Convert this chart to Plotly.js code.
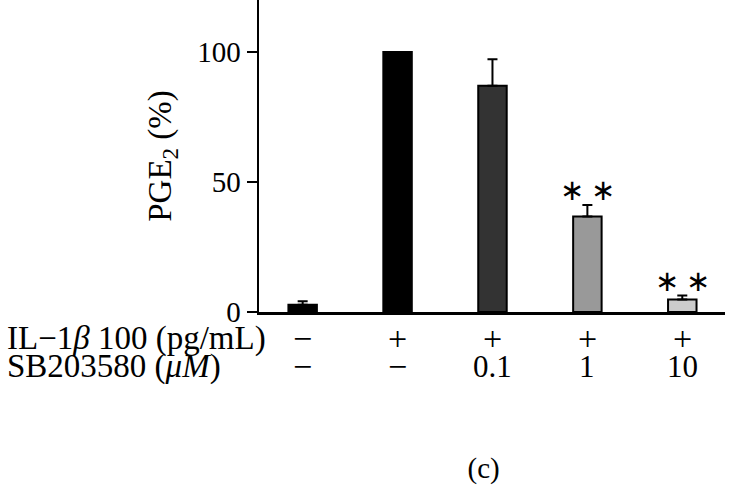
<!DOCTYPE html>
<html>
<head>
<meta charset="utf-8">
<script src="https://cdn.plot.ly/plotly-3.0.1.min.js"></script>
<style>html,body{margin:0;padding:0;background:#fff}#chart{width:743px;height:501px}</style>
</head>
<body>
<div id="chart"></div>
<script>
// Data
var groups = [0, 1, 2, 3, 4];
var pge2Values = [2.8, 100, 87, 36.7, 4.8];
var pge2Errors = [1.3, 0, 10.2, 4.5, 1.5];
var barColors = ['#000000', '#000000', '#333333', '#999999', '#cccccc'];
var il1bLabels = ['\u2212', '+', '+', '+', '+'];
var sbLabels = ['\u2212', '\u2212', '0.1', '1', '10'];
var significance = ['', '', '', '\u2217 \u2217', '\u2217 \u2217'];
var rowTitles = ['IL\u22121<i>\u03b2</i> 100 (pg/mL)', 'SB203580 (<i>\u03bcM</i>)'];
var yTickVals = [0, 50, 100];

var FONT = 'Liberation Serif, Times New Roman, serif';

var trace = {
  type: 'bar',
  x: groups,
  y: pge2Values,
  width: 0.3,
  marker: {color: barColors, line: {color: '#000', width: 2}},
  error_y: {type: 'data', symmetric: false, array: pge2Errors, arrayminus: groups.map(function(){return 0;}),
            color: '#000', thickness: 2, width: 5},
  hoverinfo: 'none'
};

function symSize(s) { return (s === '+' || s === '\u2212') ? 34 : 31; }

var annotations = [];
var plotH = 312;
function paperY(px) { return (plotH - px) / plotH; }
groups.forEach(function(g, i) {
  annotations.push({x: g, xref: 'x', y: paperY(338), yref: 'paper', text: il1bLabels[i], showarrow: false,
    xanchor: 'center', yanchor: 'middle', font: {family: FONT, size: symSize(il1bLabels[i]), color: '#000'}});
  annotations.push({x: g, xref: 'x', y: paperY(366), yref: 'paper', text: sbLabels[i], showarrow: false,
    xanchor: 'center', yanchor: 'middle', font: {family: FONT, size: symSize(sbLabels[i]), color: '#000'}});
  if (significance[i]) {
    annotations.push({x: g, xref: 'x', y: pge2Values[i] + pge2Errors[i], yref: 'y', text: significance[i],
      showarrow: false, xanchor: 'center', yanchor: 'bottom', yshift: -3,
      font: {family: FONT, size: 29, color: '#000'}});
  }
});
annotations.push({x: -0.545, xref: 'paper', y: paperY(338), yref: 'paper', text: rowTitles[0], showarrow: false,
  xanchor: 'left', yanchor: 'middle', font: {family: FONT, size: 33, color: '#000'}});
annotations.push({x: -0.545, xref: 'paper', y: paperY(366), yref: 'paper', text: rowTitles[1], showarrow: false,
  xanchor: 'left', yanchor: 'middle', font: {family: FONT, size: 33, color: '#000'}});

var layout = {
  width: 743, height: 501,
  margin: {l: 259, r: 18, t: 0, b: 189, pad: 0},
  paper_bgcolor: '#fff', plot_bgcolor: '#fff',
  showlegend: false,
  title: {text: '(c)', x: 0.482, xref: 'paper', y: 1 - 468/501, yref: 'container', yanchor: 'middle', xanchor: 'center',
          font: {family: FONT, size: 29, color: '#000'}},
  xaxis: {range: [-0.46, 4.45], showgrid: false, zeroline: false, showticklabels: false, ticks: '',
          showline: true, linecolor: '#000', linewidth: 2.5, fixedrange: true},
  yaxis: {range: [0, 120], tickvals: yTickVals, ticks: 'outside', ticklen: 10, tickwidth: 2, tickcolor: '#000',
          showgrid: false, zeroline: false, showline: true, linecolor: '#000', linewidth: 2.5,
          tickfont: {family: FONT, size: 29, color: '#000'},
          title: {text: 'PGE<sub>2</sub> (%)', standoff: 16, font: {family: FONT, size: 33, color: '#000'}},
          automargin: false, fixedrange: true},
  annotations: annotations
};

Plotly.newPlot('chart', [trace], layout, {displayModeBar: false, staticPlot: true});
</script>
</body>
</html>
